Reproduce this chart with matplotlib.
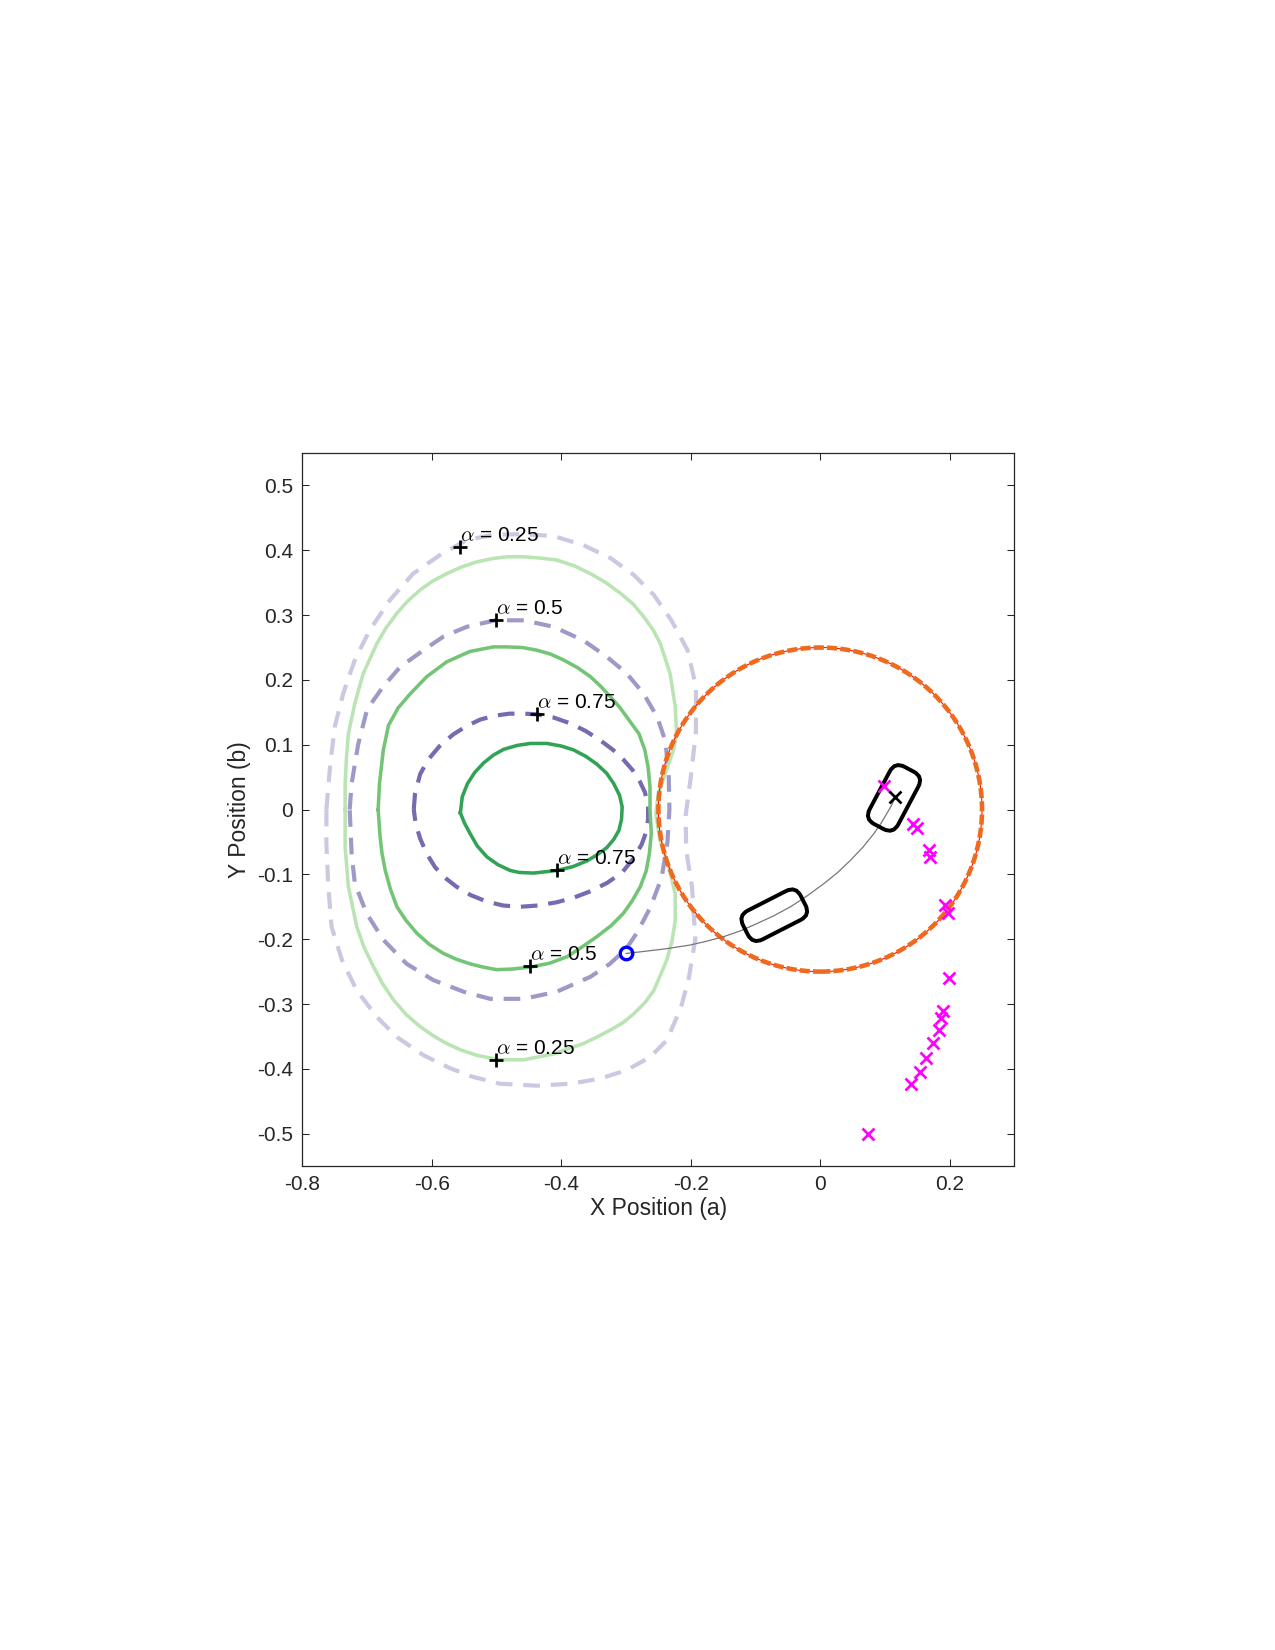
import matplotlib
matplotlib.use("Agg")
import matplotlib.pyplot as plt
from matplotlib.patches import Circle, FancyBboxPatch
from matplotlib.transforms import Affine2D

plt.rcParams["font.family"] = ["Liberation Sans", "DejaVu Sans"]
plt.rcParams["mathtext.fontset"] = "cm"
plt.rcParams["axes.unicode_minus"] = False

# contour lines (x, y)
purple_outer = [(-0.763, 0.0), (-0.757, 0.07), (-0.750, 0.128), (-0.737, 0.179), (-0.719, 0.231),
                (-0.696, 0.277), (-0.665, 0.323), (-0.629, 0.364), (-0.587, 0.393), (-0.546, 0.416),
                (-0.505, 0.424), (-0.458, 0.425), (-0.412, 0.422), (-0.366, 0.408), (-0.324, 0.388),
                (-0.288, 0.362), (-0.257, 0.331), (-0.230, 0.292), (-0.205, 0.246), (-0.192, 0.19),
                (-0.192, 0.12), (-0.200, 0.05), (-0.208, -0.01), (-0.207, -0.063), (-0.198, -0.12),
                (-0.193, -0.2), (-0.203, -0.26), (-0.215, -0.305), (-0.237, -0.356), (-0.263, -0.382),
                (-0.299, -0.402), (-0.34, -0.415), (-0.386, -0.423), (-0.438, -0.426), (-0.495, -0.423),
                (-0.538, -0.412), (-0.572, -0.399), (-0.613, -0.379), (-0.654, -0.351), (-0.685, -0.32),
                (-0.716, -0.279), (-0.739, -0.232), (-0.755, -0.181), (-0.76, -0.119), (-0.763, -0.052)]
purple_mid = [(-0.727, 0.0), (-0.724, 0.04), (-0.714, 0.10), (-0.700, 0.155), (-0.675, 0.19),
              (-0.649, 0.22), (-0.613, 0.246), (-0.582, 0.267), (-0.546, 0.282), (-0.502, 0.292),
              (-0.458, 0.292), (-0.412, 0.282), (-0.366, 0.261), (-0.330, 0.236), (-0.299, 0.21),
              (-0.273, 0.179), (-0.252, 0.143), (-0.239, 0.105), (-0.234, 0.05), (-0.233, 0.0),
              (-0.236, -0.05), (-0.245, -0.105), (-0.262, -0.15), (-0.283, -0.19), (-0.300, -0.215),
              (-0.325, -0.238), (-0.355, -0.258), (-0.407, -0.281), (-0.458, -0.292), (-0.510, -0.292),
              (-0.551, -0.281), (-0.598, -0.263), (-0.639, -0.238), (-0.675, -0.201), (-0.701, -0.16),
              (-0.719, -0.114), (-0.724, -0.068)]
purple_in = [(-0.628, 0.0), (-0.626, 0.025), (-0.618, 0.055), (-0.605, 0.078), (-0.588, 0.098),
             (-0.567, 0.116), (-0.546, 0.129), (-0.525, 0.139), (-0.502, 0.145), (-0.480, 0.148),
             (-0.458, 0.148), (-0.438, 0.147), (-0.412, 0.142), (-0.386, 0.133), (-0.362, 0.121),
             (-0.340, 0.107), (-0.320, 0.092), (-0.304, 0.077), (-0.290, 0.061), (-0.279, 0.044),
             (-0.271, 0.027), (-0.266, 0.008), (-0.266, -0.015), (-0.269, -0.035), (-0.276, -0.054),
             (-0.289, -0.076), (-0.306, -0.097), (-0.329, -0.113), (-0.355, -0.126), (-0.381, -0.136),
             (-0.407, -0.143), (-0.436, -0.148), (-0.464, -0.150), (-0.490, -0.148), (-0.515, -0.142),
             (-0.540, -0.132), (-0.562, -0.119), (-0.580, -0.105), (-0.595, -0.089), (-0.608, -0.068),
             (-0.618, -0.045), (-0.625, -0.022)]
green_outer = [(-0.734, 0.0), (-0.734, 0.04), (-0.732, 0.08), (-0.729, 0.117), (-0.719, 0.164),
               (-0.706, 0.210), (-0.685, 0.256), (-0.671, 0.280), (-0.654, 0.303), (-0.637, 0.322),
               (-0.618, 0.339), (-0.598, 0.353), (-0.577, 0.364), (-0.555, 0.374), (-0.531, 0.382),
               (-0.508, 0.387), (-0.484, 0.390), (-0.458, 0.390), (-0.432, 0.388), (-0.407, 0.385),
               (-0.380, 0.376), (-0.355, 0.364), (-0.331, 0.350), (-0.309, 0.334), (-0.289, 0.317),
               (-0.273, 0.298), (-0.258, 0.277), (-0.247, 0.256), (-0.232, 0.21), (-0.224, 0.159),
               (-0.222, 0.118), (-0.226, 0.094), (-0.234, 0.071), (-0.250, 0.025), (-0.254, -0.006),
               (-0.248, -0.045), (-0.234, -0.088), (-0.224, -0.13), (-0.224, -0.171), (-0.229, -0.203),
               (-0.237, -0.232), (-0.257, -0.279), (-0.271, -0.298), (-0.288, -0.315), (-0.305, -0.329),
               (-0.324, -0.340), (-0.345, -0.351), (-0.366, -0.361), (-0.412, -0.377), (-0.458, -0.386),
               (-0.496, -0.386), (-0.531, -0.379), (-0.555, -0.371), (-0.577, -0.361), (-0.598, -0.349),
               (-0.618, -0.335), (-0.640, -0.316), (-0.659, -0.294), (-0.676, -0.269), (-0.690, -0.243),
               (-0.705, -0.212), (-0.716, -0.181), (-0.729, -0.119), (-0.734, -0.058)]
green_mid = [(-0.683, 0.0), (-0.681, 0.04), (-0.675, 0.092), (-0.667, 0.13), (-0.652, 0.157),
             (-0.634, 0.178), (-0.608, 0.205), (-0.577, 0.228), (-0.541, 0.244), (-0.505, 0.251),
             (-0.484, 0.251), (-0.460, 0.250), (-0.438, 0.246), (-0.417, 0.240), (-0.397, 0.231),
             (-0.375, 0.219), (-0.355, 0.205), (-0.339, 0.190), (-0.324, 0.174), (-0.310, 0.158),
             (-0.299, 0.143), (-0.280, 0.117), (-0.271, 0.092), (-0.266, 0.066), (-0.263, 0.035),
             (-0.263, 0.0), (-0.261, -0.037), (-0.264, -0.068), (-0.269, -0.095), (-0.278, -0.119),
             (-0.290, -0.140), (-0.304, -0.160), (-0.323, -0.179), (-0.345, -0.196), (-0.368, -0.212),
             (-0.391, -0.227), (-0.418, -0.237), (-0.448, -0.243), (-0.475, -0.246), (-0.500, -0.247),
             (-0.521, -0.243), (-0.541, -0.238), (-0.562, -0.231), (-0.582, -0.222), (-0.604, -0.208),
             (-0.623, -0.191), (-0.640, -0.171), (-0.654, -0.150), (-0.664, -0.123), (-0.672, -0.094),
             (-0.677, -0.068), (-0.680, -0.042)]
green_in = [(-0.556, -0.005), (-0.553, 0.02), (-0.545, 0.040), (-0.534, 0.057), (-0.520, 0.072),
            (-0.505, 0.084), (-0.489, 0.093), (-0.468, 0.099), (-0.448, 0.102), (-0.422, 0.102),
            (-0.400, 0.098), (-0.381, 0.092), (-0.362, 0.082), (-0.345, 0.070), (-0.330, 0.056),
            (-0.319, 0.040), (-0.310, 0.022), (-0.306, 0.004), (-0.307, -0.015), (-0.311, -0.032),
            (-0.319, -0.046), (-0.330, -0.059), (-0.345, -0.070), (-0.360, -0.079), (-0.382, -0.088),
            (-0.407, -0.094), (-0.443, -0.098), (-0.465, -0.097), (-0.479, -0.094), (-0.498, -0.085),
            (-0.515, -0.073), (-0.530, -0.056), (-0.541, -0.037), (-0.550, -0.020)]

# alpha level marks
level_x = [-0.556, -0.501, -0.438, -0.406, -0.448, -0.501]
level_y = [0.4045, 0.2923, 0.1468, -0.0935, -0.2417, -0.3857]
level_alpha = ["0.25", "0.5", "0.75", "0.75", "0.5", "0.25"]

# obstacle circle
circle_center = (0.0, 0.0)
circle_radius = 0.25

# path from start to goal
path_x = [-0.300, -0.278, -0.240, -0.201, -0.175, -0.149, -0.123, -0.098, -0.072, -0.046,
          -0.020, 0.006, 0.027, 0.047, 0.066, 0.083, 0.094, 0.103, 0.110, 0.116]
path_y = [-0.222, -0.2195, -0.215, -0.209, -0.203, -0.196, -0.187, -0.176, -0.164, -0.150,
          -0.133, -0.114, -0.097, -0.078, -0.058, -0.037, -0.021, -0.006, 0.006, 0.020]
start_point = (-0.300, -0.222)
goal_point = (0.116, 0.020)

# vehicle footprints: centre x, centre y, heading (deg)
vehicle_x = [0.114, -0.071]
vehicle_y = [0.018, -0.163]
vehicle_heading = [62, 27]
vehicle_length = 0.10
vehicle_width = 0.05

# measurements
meas_x = [0.099, 0.144, 0.149, 0.168, 0.170, 0.193, 0.197, 0.199, 0.190, 0.187,
          0.184, 0.174, 0.164, 0.154, 0.141, 0.074]
meas_y = [0.037, -0.023, -0.028, -0.063, -0.073, -0.148, -0.160, -0.260, -0.311, -0.321,
          -0.340, -0.360, -0.383, -0.405, -0.424, -0.501]

xticks = [-0.8, -0.6, -0.4, -0.2, 0, 0.2]
yticks = [-0.5, -0.4, -0.3, -0.2, -0.1, 0, 0.1, 0.2, 0.3, 0.4, 0.5]


def closed(points):
    xs = [p[0] for p in points] + [points[0][0]]
    ys = [p[1] for p in points] + [points[0][1]]
    return xs, ys


fig = plt.figure(figsize=(8.5, 11), dpi=150)
ax = fig.add_axes([0.2372, 0.2933, 0.5584, 0.4321])

dash = (0, (4, 2.6))
for pts, col in [(purple_outer, "#cbc9e2"), (purple_mid, "#9e9ac8"), (purple_in, "#756bb1")]:
    xs, ys = closed(pts)
    ax.plot(xs, ys, color=col, lw=2.0, linestyle=dash, zorder=2)
for pts, col in [(green_outer, "#bae4b3"), (green_mid, "#74c476"), (green_in, "#31a354")]:
    xs, ys = closed(pts)
    ax.plot(xs, ys, color=col, lw=1.7, zorder=2.5, solid_joinstyle="round")

ax.add_patch(Circle(circle_center, circle_radius, fill=False, color="#ff0000", lw=0.5, zorder=3))
ax.add_patch(Circle(circle_center, circle_radius, fill=False, color="#ef6a1c", lw=2.2,
                    linestyle=(0, (2.2, 0.7)), zorder=3.1))

ax.plot(path_x, path_y, color="#777777", lw=0.6, zorder=4)

r = 0.017
for cx, cy, hd in zip(vehicle_x, vehicle_y, vehicle_heading):
    box = FancyBboxPatch((cx - vehicle_length / 2 + r, cy - vehicle_width / 2 + r),
                         vehicle_length - 2 * r, vehicle_width - 2 * r,
                         boxstyle=f"round,pad={r}", fill=False, ec="black", lw=1.9, zorder=5)
    box.set_transform(Affine2D().rotate_deg_around(cx, cy, hd) + ax.transData)
    ax.add_patch(box)

ax.plot(meas_x, meas_y, "x", color="#ff00ff", ms=6, mew=1.3, zorder=6)
ax.plot(*goal_point, "x", color="black", ms=6, mew=1.3, zorder=6)
ax.plot(*start_point, "o", mfc="none", mec="#0000ff", ms=6, mew=1.6, zorder=6)

ax.plot(level_x, level_y, "+", color="black", ms=7, mew=1.3, zorder=7)
for lx, ly, la in zip(level_x, level_y, level_alpha):
    ax.annotate(f"$\\alpha$ = {la}", (lx, ly), xytext=(0, 5.5), textcoords="offset points",
                fontsize=10, ha="left", va="center", zorder=8)

ax.set_xlim(-0.8, 0.3)
ax.set_ylim(-0.55, 0.55)
ax.set_xticks(xticks)
ax.set_yticks(yticks)
ax.set_xticklabels([f"{v:g}" for v in xticks])
ax.set_yticklabels([f"{v:g}" for v in yticks])
ax.tick_params(direction="in", length=3.5, width=0.5, labelsize=10, top=True, right=True,
               colors="#262626", pad=4.5)
for s in ax.spines.values():
    s.set_linewidth(0.6)
    s.set_color("#262626")
ax.set_xlabel("X Position (a)", fontsize=11, color="#262626", labelpad=1)
ax.set_ylabel("Y Position (b)", fontsize=11, color="#262626", labelpad=3)

fig.savefig("out.png", dpi=150)
